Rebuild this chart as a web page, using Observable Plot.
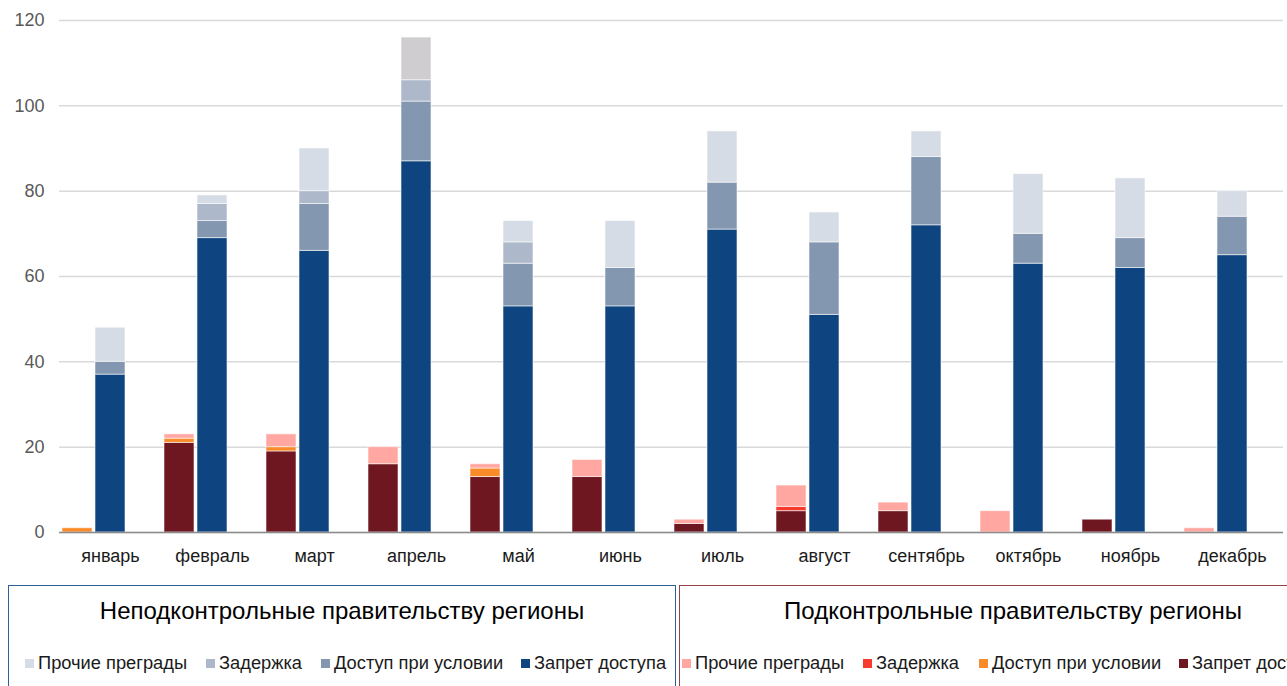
<!DOCTYPE html>
<html>
<head>
<meta charset="utf-8">
<script src="https://cdn.jsdelivr.net/npm/d3@7"></script>
<script src="https://cdn.jsdelivr.net/npm/@observablehq/plot@0.6"></script>
<style>
  html, body { margin: 0; padding: 0; background: #fff; }
  body { font-family: "Liberation Sans", Arial, sans-serif; }
  #wrap { position: relative; width: 1287px; height: 686px; overflow: hidden; }
  #chart { position: absolute; left: 0; top: 0; }
  .box { position: absolute; top: 585px; height: 130px; box-sizing: border-box; background: #fff; }
  .box.left { left: 8px; width: 668px; border: 1.5px solid #2f5f97; }
  .box.right { left: 679px; width: 668px; border: 1.5px solid #9a4048; }
  .box .title { position: absolute; top: 11px; left: 0; right: 0; text-align: center; font-size: 24px; color: #000; white-space: nowrap; }
  .box .items { position: absolute; top: 66px; left: 0; right: 0; height: 22px; }
  .item { position: absolute; top: 0; display: flex; align-items: center; font-size: 18.3px; color: #1a1a1a; white-space: nowrap; }
  .sw { width: 9px; height: 9px; margin-right: 4px; display: inline-block; }
</style>
</head>
<body>
<div id="wrap">
  <div id="chart"></div>
  <div class="box left"><div class="title">Неподконтрольные правительству регионы</div><div class="items" id="itemsL"></div></div>
  <div class="box right"><div class="title">Подконтрольные правительству регионы</div><div class="items" id="itemsR"></div></div>
</div>
<script>
// Months
const months = ["январь","февраль","март","апрель","май","июнь","июль","август","сентябрь","октябрь","ноябрь","декабрь"];
// Series names (legend order)
const seriesNames = ["Прочие преграды","Задержка","Доступ при условии","Запрет доступа"];

// Неподконтрольные правительству регионы (blue)
const ncBan   = [37,69,66,87,53,53,71,51,72,63,62,65];
const ncCond  = [3,4,11,14,10,9,11,17,16,7,7,9];
const ncDelay = [0,4,3,5,5,0,0,0,0,0,0,0];
const ncOther = [8,2,10,10,5,11,12,7,6,14,14,6];

// Подконтрольные правительству регионы (red)
const cBan   = [0,21,19,16,13,13,2,5,5,0,3,0];
const cCond  = [1,1,1,0,2,0,0,0,0,0,0,0];
const cDelay = [0,0,0,0,0,0,0,1,0,0,0,0];
const cOther = [0,1,3,4,1,4,1,5,2,5,0,1];

const yTicks = [0,20,40,60,80,100,120];

// colours
const ncColors = {"Запрет доступа":"#0e4580","Доступ при условии":"#8497b0","Задержка":"#adb9ca","Прочие преграды":"#d6dce5"};
const cColors  = {"Запрет доступа":"#6e1720","Доступ при условии":"#f98b2b","Задержка":"#f53b2e","Прочие преграды":"#ffa7a0"};

// build rows (stack order: ban, cond, delay, other)
const stackOrder = ["Запрет доступа","Доступ при условии","Задержка","Прочие преграды"];
const ncVals = {"Запрет доступа":ncBan,"Доступ при условии":ncCond,"Задержка":ncDelay,"Прочие преграды":ncOther};
const cVals  = {"Запрет доступа":cBan,"Доступ при условии":cCond,"Задержка":cDelay,"Прочие преграды":cOther};
const rows = [];
months.forEach((m, i) => {
  stackOrder.forEach(s => rows.push({month: m, group: "c", series: s, value: cVals[s][i]}));
  stackOrder.forEach(s => rows.push({month: m, group: "nc", series: s, value: ncVals[s][i]}));
});

function fillOf(d) {
  if (d.group === "nc") {
    if (d.month === "апрель" && d.series === "Прочие преграды") return "#d0cdd0";
    return ncColors[d.series];
  }
  return cColors[d.series];
}

const plot = Plot.plot({
  width: 1287,
  height: 585,
  marginLeft: 54,
  marginRight: 0,
  marginTop: 20,
  marginBottom: 53,
  style: {fontFamily: '"Liberation Sans", Arial, sans-serif', fontSize: "18px", color: "#595959", background: "transparent"},
  fx: {domain: months, padding: 0, axis: "bottom", tickSize: 0, tickPadding: 17, label: null},
  x: {domain: ["c","nc","_"], padding: 0.09, axis: null},
  y: {domain: [0,120], ticks: yTicks, tickSize: 0, tickPadding: 15, label: null},
  marks: [
    Plot.ruleY(yTicks, {stroke: "#d9d9d9", strokeWidth: 1.5}),
    Plot.barY(rows, {fx: "month", x: "group", y: "value", z: d => d.group + d.series, fill: fillOf, stroke: "white", strokeOpacity: 0.55, strokeWidth: 1}),
    Plot.ruleY([0], {stroke: "#8c8c8c", strokeWidth: 1.5})
  ]
});
document.getElementById("chart").appendChild(plot);
d3.select(plot).selectAll('[aria-label="fx-axis tick label"] text').attr("fill", "#1a1a1a");

// legends
const posL = [16, 197, 312, 512];
const posR = [2, 183, 299, 499];
function legend(el, colors, pos) {
  seriesNames.forEach((s, i) => {
    const it = document.createElement("div");
    it.className = "item";
    it.style.left = pos[i] + "px";
    it.innerHTML = `<span class="sw" style="background:${colors[s]}"></span><span>${s}</span>`;
    el.appendChild(it);
  });
}
legend(document.getElementById("itemsL"), ncColors, posL);
legend(document.getElementById("itemsR"), cColors, posR);
</script>
</body>
</html>
